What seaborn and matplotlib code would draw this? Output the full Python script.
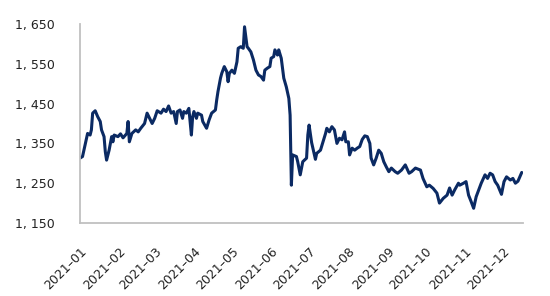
import matplotlib
matplotlib.use("Agg")
import matplotlib.pyplot as plt
import matplotlib.dates as mdates
import seaborn as sns
import pandas as pd

dates = [
    "2021-01-01", "2021-01-03", "2021-01-05", "2021-01-07", "2021-01-09", "2021-01-10",
    "2021-01-11", "2021-01-13", "2021-01-15", "2021-01-17", "2021-01-18", "2021-01-20",
    "2021-01-21", "2021-01-22", "2021-01-24", "2021-01-26", "2021-01-27", "2021-01-28",
    "2021-01-31", "2021-02-02", "2021-02-04", "2021-02-07", "2021-02-08", "2021-02-09",
    "2021-02-11", "2021-02-14", "2021-02-16", "2021-02-18", "2021-02-21", "2021-02-23",
    "2021-02-25", "2021-02-27", "2021-03-01", "2021-03-03", "2021-03-06", "2021-03-08",
    "2021-03-10", "2021-03-12", "2021-03-14", "2021-03-16", "2021-03-18", "2021-03-19",
    "2021-03-21", "2021-03-23", "2021-03-24", "2021-03-26", "2021-03-28", "2021-03-29",
    "2021-03-30", "2021-03-31", "2021-04-01", "2021-04-03", "2021-04-04", "2021-04-07",
    "2021-04-08", "2021-04-11", "2021-04-13", "2021-04-15", "2021-04-18", "2021-04-19",
    "2021-04-20", "2021-04-22", "2021-04-23", "2021-04-25", "2021-04-27", "2021-04-28",
    "2021-04-29", "2021-05-01", "2021-05-03", "2021-05-05", "2021-05-06", "2021-05-08",
    "2021-05-10", "2021-05-11", "2021-05-13", "2021-05-14", "2021-05-16", "2021-05-18",
    "2021-05-20", "2021-05-22", "2021-05-24", "2021-05-26", "2021-05-27", "2021-05-29",
    "2021-05-31", "2021-06-01", "2021-06-03", "2021-06-04", "2021-06-06", "2021-06-07",
    "2021-06-09", "2021-06-11", "2021-06-13", "2021-06-15", "2021-06-16", "2021-06-17",
    "2021-06-18", "2021-06-21", "2021-06-22", "2021-06-24", "2021-06-26", "2021-06-29",
    "2021-06-30", "2021-07-01", "2021-07-03", "2021-07-06", "2021-07-07", "2021-07-10",
    "2021-07-12", "2021-07-14", "2021-07-15", "2021-07-17", "2021-07-19", "2021-07-21",
    "2021-07-23", "2021-07-25", "2021-07-27", "2021-07-29", "2021-07-30", "2021-08-01",
    "2021-08-02", "2021-08-04", "2021-08-06", "2021-08-08", "2021-08-10", "2021-08-12",
    "2021-08-14", "2021-08-16", "2021-08-18", "2021-08-19", "2021-08-21", "2021-08-23",
    "2021-08-25", "2021-08-27", "2021-08-29", "2021-08-31", "2021-09-02", "2021-09-04",
    "2021-09-07", "2021-09-09", "2021-09-12", "2021-09-15", "2021-09-18", "2021-09-20",
    "2021-09-23", "2021-09-27", "2021-09-29", "2021-10-02", "2021-10-04", "2021-10-07",
    "2021-10-10", "2021-10-12", "2021-10-15", "2021-10-18", "2021-10-20", "2021-10-22",
    "2021-10-24", "2021-10-27", "2021-10-28", "2021-10-31", "2021-11-02", "2021-11-04",
    "2021-11-06", "2021-11-08", "2021-11-10", "2021-11-12", "2021-11-14", "2021-11-17",
    "2021-11-19", "2021-11-21", "2021-11-23", "2021-11-25", "2021-11-27", "2021-11-30",
    "2021-12-02", "2021-12-04", "2021-12-07", "2021-12-09", "2021-12-11", "2021-12-13",
    "2021-12-15", "2021-12-16",
]

values = [
    1313, 1317, 1346, 1375, 1371, 1384,
    1426, 1432, 1417, 1405, 1384, 1367,
    1329, 1308, 1333, 1367, 1354, 1371,
    1367, 1374, 1364, 1375, 1405, 1354,
    1375, 1384, 1379, 1388, 1400, 1426,
    1413, 1400, 1413, 1432, 1426, 1436,
    1430, 1444, 1426, 1430, 1400, 1430,
    1434, 1413, 1430, 1426, 1438, 1405,
    1371, 1417, 1430, 1413, 1426, 1421,
    1405, 1388, 1409, 1426, 1434, 1459,
    1480, 1514, 1526, 1543, 1530, 1505,
    1526, 1534, 1526, 1555, 1589, 1593,
    1589, 1643, 1593, 1589, 1580, 1560,
    1534, 1522, 1518, 1509, 1534, 1539,
    1543, 1564, 1568, 1585, 1572, 1585,
    1564, 1514, 1492, 1463, 1421, 1245,
    1321, 1317, 1304, 1271, 1304, 1313,
    1371, 1396, 1352, 1310, 1325, 1333,
    1354, 1375, 1388, 1379, 1392, 1384,
    1350, 1363, 1359, 1379, 1354, 1354,
    1321, 1338, 1333, 1338, 1342, 1360,
    1369, 1367, 1350, 1313, 1296, 1313,
    1333, 1325, 1304, 1291, 1279, 1288,
    1279, 1275, 1283, 1296, 1275, 1279,
    1288, 1283, 1262, 1241, 1245, 1237,
    1225, 1200, 1212, 1220, 1238, 1220,
    1233, 1250, 1245, 1250, 1254, 1220,
    1204, 1187, 1216, 1233, 1250, 1271,
    1262, 1275, 1271, 1254, 1245, 1222,
    1254, 1266, 1258, 1262, 1250, 1255,
    1270, 1277,
]

y_ticks = [1150, 1250, 1350, 1450, 1550, 1650]
y_tick_labels = ["1, 150", "1, 250", "1, 350", "1, 450", "1, 550", "1, 650"]
x_start = "2021-01-01"
x_end = "2021-12-17"

df = pd.DataFrame({"date": pd.to_datetime(dates), "value": values})

sns.set_theme(style="white")
plt.rcParams["font.family"] = ["DejaVu Sans"]

fig = plt.figure(figsize=(5.5, 2.96), dpi=100)
ax = fig.add_axes([80 / 550, 1 - 223 / 296, 443 / 550, 199 / 296])

sns.lineplot(data=df, x="date", y="value", ax=ax, color="#0b2a63", linewidth=2.2)

ax.set_xlim(pd.Timestamp(x_start), pd.Timestamp(x_end))
ax.set_ylim(y_ticks[0], y_ticks[-1])
ax.set_yticks(y_ticks)
ax.set_yticklabels(y_tick_labels)
ax.xaxis.set_major_locator(mdates.MonthLocator())
ax.xaxis.set_major_formatter(mdates.DateFormatter("%Y–%m"))
ax.set_xlabel("")
ax.set_ylabel("")

for side in ["top", "right"]:
    ax.spines[side].set_visible(False)
for side in ["left", "bottom"]:
    ax.spines[side].set_color("#c0c0c0")
    ax.spines[side].set_linewidth(1.3)

ax.tick_params(axis="both", which="major", direction="out", length=4, width=1.2,
               color="#c0c0c0", labelsize=9, labelcolor="#222222")
ax.tick_params(axis="y", pad=14)
ax.tick_params(axis="x", pad=12)
plt.setp(ax.get_xticklabels(), rotation=45, ha="right", rotation_mode="anchor")

fig.savefig("out.png", dpi=100)
